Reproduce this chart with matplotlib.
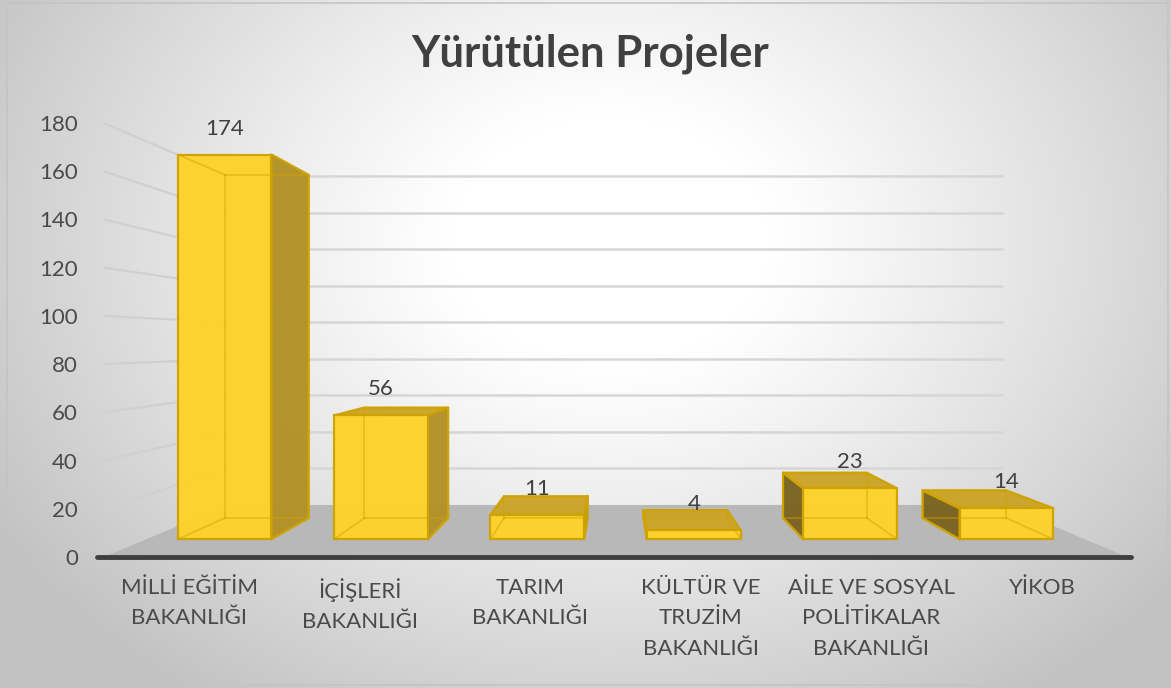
import numpy as np
import matplotlib
matplotlib.use("Agg")
import matplotlib.pyplot as plt
from matplotlib.patches import Polygon, Rectangle

plt.rcParams['font.family'] = ['Lato', 'DejaVu Sans']

# ---------------- data ----------------
title = "Yürütülen Projeler"
categories = ["MİLLİ EĞİTİM\nBAKANLIĞI", "İÇİŞLERİ\nBAKANLIĞI", "TARIM\nBAKANLIĞI",
              "KÜLTÜR VE\nTRUZİM\nBAKANLIĞI", "AİLE VE SOSYAL\nPOLİTİKALAR\nBAKANLIĞI", "YİKOB"]
values = [174, 56, 11, 4, 23, 14]
yticks = [0, 20, 40, 60, 80, 100, 120, 140, 160, 180]

# ---------------- geometry / style ----------------
W, H = 1171, 688
VX, VY = 2.502, 88.8          # vanishing point in data units
S_BACK = 0.243                # depth of back wall
S1, S2 = 0.083, 0.182         # bar depth range
BAR_W = 0.6

FRONT = '#FDD22B'
TOP = '#CBA428'
RIGHT = '#B39127'
LEFT = '#7B6420'
EDGE = '#CFA300'
TXT = '#4a4a4a'

fig = plt.figure(figsize=(W / 100, H / 100), dpi=100)

# background radial gradient
bg = fig.add_axes([0, 0, 1, 1], zorder=-10)
yy, xx = np.mgrid[0:H, 0:W]
r = np.sqrt(((xx - 610) / 720.0) ** 2 + ((yy - 240) / 560.0) ** 2)
t = np.clip((r - 0.22) / 0.78, 0, 1)
g = 1 - (1 - 0xc2 / 255) * t ** 1.1
bg.imshow(np.dstack([g, g, g]), extent=[0, W, H, 0], aspect='auto', interpolation='bilinear')
bg.set_xlim(0, W)
bg.set_ylim(H, 0)
bg.axis('off')

fig.add_artist(Rectangle((7 / W, 3 / H), 1161 / W, 682 / H, transform=fig.transFigure,
                         fill=False, ec='#c4c4c4', lw=1.2))

fig.text(590 / W, 1 - 54 / H, title, ha='center', va='center', fontsize=31.5,
         fontweight='bold', color='#404040')

ax = fig.add_axes([103.8 / W, (H - 557) / H, (1127.2 - 103.8) / W, (557 - 123) / H])
n = len(categories)
ax.set_xlim(-0.5, n - 0.5)
ax.set_ylim(0, 180)
ax.patch.set_alpha(0)
for sp in ax.spines.values():
    sp.set_visible(False)


def P(i, v, s):
    return (i + s * (VX - i), v + s * (VY - v))


x0, x1 = -0.5, n - 0.5

# floor
floor = [P(x0, 0, 0), P(x1, 0, 0), P(x1, 0, S_BACK), P(x0, 0, S_BACK)]
ax.add_patch(Polygon(floor, closed=True, fc='#b8b8b8', ec='none', zorder=1, clip_on=False))

# wall gridlines
for v in yticks[1:]:
    a, b, c = P(x0, v, 0), P(x0, v, S_BACK), P(x1, v, S_BACK)
    ax.plot([a[0], b[0]], [a[1], b[1]], color='#d0d0d0', lw=1.6, zorder=1, clip_on=False,
            solid_capstyle='butt')
    ax.plot([b[0], c[0]], [b[1], c[1]], color='#d6d6d6', lw=1.8, zorder=1, clip_on=False,
            solid_capstyle='butt')

# floor front edge
a, b = P(x0, 0, 0), P(x1, 0, 0)
ax.plot([a[0] - 0.04, b[0] + 0.02], [a[1], b[1]], color='#3f3f3f', lw=3.5, zorder=2,
        clip_on=False, solid_capstyle='round')

# bars
for k, v in enumerate(values):
    xl, xr = k - BAR_W / 2, k + BAR_W / 2
    front = [P(xl, 0, S1), P(xr, 0, S1), P(xr, v, S1), P(xl, v, S1)]
    back = [P(xl, 0, S2), P(xr, 0, S2), P(xr, v, S2), P(xl, v, S2)]
    faces = []
    if xr < VX:
        faces.append(([front[1], back[1], back[2], front[2]], RIGHT))
    if xl > VX:
        faces.append(([front[0], back[0], back[3], front[3]], LEFT))
    if v < VY:
        faces.append(([front[3], front[2], back[2], back[3]], TOP))
    faces.append((front, FRONT))
    for poly, col in faces:
        ax.add_patch(Polygon(poly, closed=True, fc=col, ec=EDGE, lw=1.6, alpha=0.97,
                             zorder=3, clip_on=False, joinstyle='round'))
    # all edges, semi-transparent (shows hidden edges through the bar)
    edges = []
    for q in range(4):
        edges.append((front[q], front[(q + 1) % 4]))
        edges.append((back[q], back[(q + 1) % 4]))
        edges.append((front[q], back[q]))
    for p1, p2 in edges:
        ax.plot([p1[0], p2[0]], [p1[1], p2[1]], color=EDGE, lw=1.3, alpha=0.45,
                zorder=4, clip_on=False)
    top_pt = P(k, v, S1)
    ax.annotate(str(v), xy=top_pt, xytext=(0, 18.7), textcoords='offset points',
                ha='center', va='center', fontsize=16, color='#404040', zorder=6,
                annotation_clip=False)

ax.set_yticks(yticks)
ax.set_xticks(range(n))
ax.set_xticklabels(categories)
ax.tick_params(axis='y', length=0, pad=18.7, labelsize=16, labelcolor=TXT)
ax.tick_params(axis='x', length=0, pad=15, labelsize=16, labelcolor=TXT)
for lbl in ax.get_xticklabels():
    lbl.set_linespacing(1.65)

fig.savefig('out.png', dpi=100)
